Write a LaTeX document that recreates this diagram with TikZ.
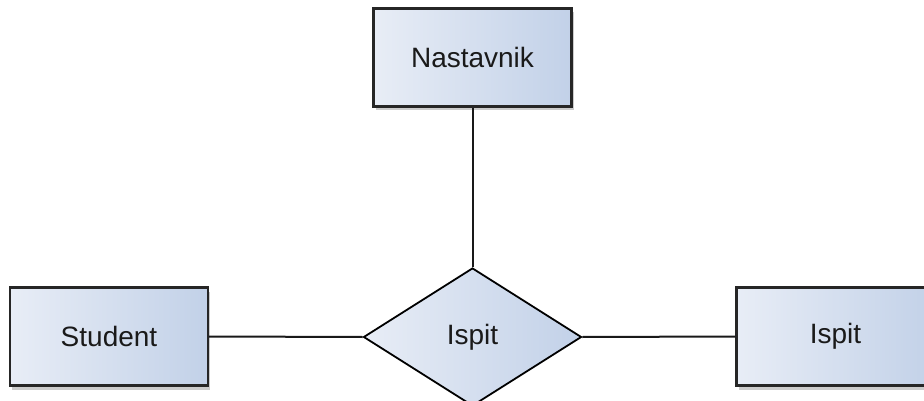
\documentclass[tikz,border=0pt]{standalone}
\usepackage{fontspec}
\setmainfont{Liberation Sans}
\usetikzlibrary{shapes.geometric,shadows}
\definecolor{fillA}{HTML}{E8EDF6}
\definecolor{fillB}{HTML}{C2D1E8}
\definecolor{txt}{HTML}{1A1A1A}
\tikzset{
  ent/.style={draw=black!85, line width=2.2pt, rectangle, minimum width=198pt, minimum height=98pt,
    left color=fillA, right color=fillB, inner sep=0pt,
    font=\fontsize{28}{32}\selectfont, text=txt,
    drop shadow={shadow xshift=2pt, shadow yshift=-4pt, opacity=0.2, fill=black}},
  rel/.style={draw=black, line width=1.8pt, diamond, minimum width=218pt, minimum height=138pt,
    aspect=1.58, inner sep=0pt, left color=fillA, right color=fillB,
    font=\fontsize{28}{32}\selectfont, text=txt},
  conn/.style={draw=black!90, line width=2pt}
}
\begin{document}
\begin{tikzpicture}[x=1pt,y=-1pt]
\useasboundingbox (0,0) rectangle (924,401);
\node[ent] (nast) at (472.5,57.5) {Nastavnik};
\node[ent] (stud) at (109,336.5) {Student};
\node[ent] (isp) at (835.5,336.5) {Ispit};
\node[rel] (rel) at (472.5,337) {Ispit};
\draw[conn] (nast.south) -- (rel.north);
\draw[conn] (stud.east) -- (rel.west);
\draw[conn] (rel.east) -- (isp.west);
\end{tikzpicture}
\end{document}
